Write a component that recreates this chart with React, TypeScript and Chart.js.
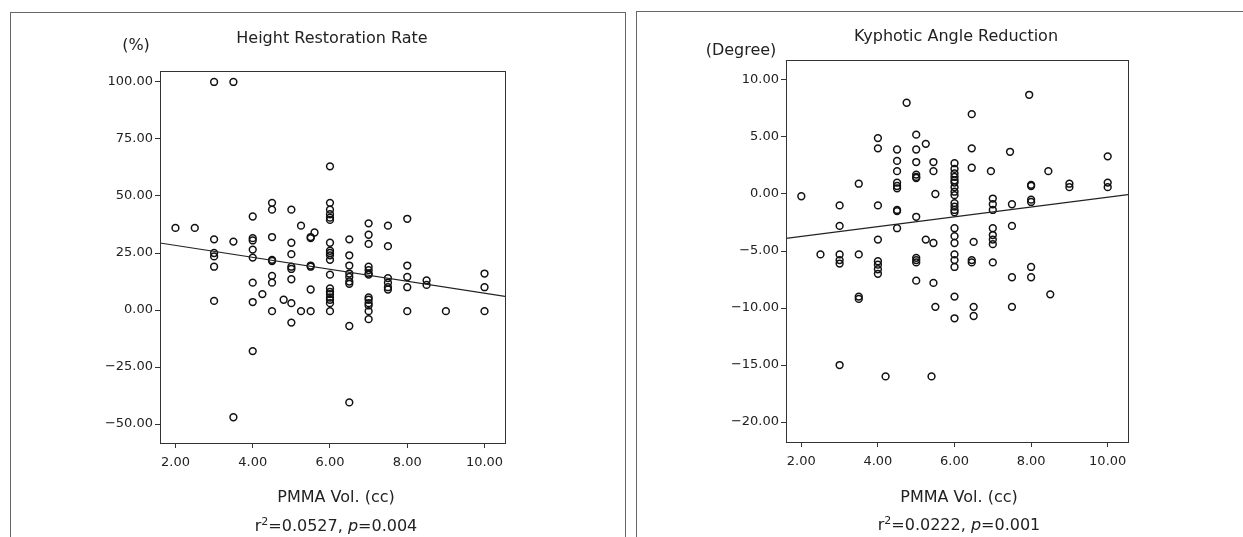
import React, { useEffect, useRef } from "react";
import { Chart, registerables } from "chart.js";

Chart.register(...registerables);

// ---------- data ----------
const volumeTicks = [2, 4, 6, 8, 10];
const heightTicks = [-50, -25, 0, 25, 50, 75, 100];
const kyphoticTicks = [-20, -15, -10, -5, 0, 5, 10];

// Height Restoration Rate (%) vs PMMA volume (cc)
const heightVol = [
  2.0,
  2.5,
  3.0, 3.0, 3.0, 3.0, 3.0, 3.0,
  3.5, 3.5, 3.5,
  4.0, 4.0, 4.0, 4.0, 4.0, 4.0, 4.0, 4.0,
  4.25,
  4.5, 4.5, 4.5, 4.5, 4.5, 4.5, 4.5, 4.5,
  4.8,
  5.0, 5.0, 5.0, 5.0, 5.0, 5.0, 5.0, 5.0,
  5.25, 5.25,
  5.6, 5.5, 5.5, 5.5, 5.5, 5.5, 5.5,
  6.0, 6.0, 6.0, 6.0, 6.0, 6.0, 6.0, 6.0, 6.0, 6.0, 6.0, 6.0, 6.0, 6.0, 6.0, 6.0, 6.0, 6.0, 6.0,
  6.5, 6.5, 6.5, 6.5, 6.5, 6.5, 6.5, 6.5, 6.5,
  7.0, 7.0, 7.0, 7.0, 7.0, 7.0, 7.0, 7.0, 7.0, 7.0, 7.0, 7.0, 7.0,
  7.5, 7.5, 7.5, 7.5, 7.5, 7.5,
  8.0, 8.0, 8.0, 8.0, 8.0,
  8.5, 8.5,
  9.0,
  10.0, 10.0, 10.0,
];
const heightRate = [
  36,
  36,
  100, 31, 25, 23.5, 19, 4,
  100, 30, -47,
  41, 31.5, 30.5, 26.5, 23, 12, 3.5, -18,
  7,
  47, 44, 32, 22, 21.5, 15, 12, -0.5,
  4.5,
  44, 29.5, 24.5, 19, 18, 13.5, 3, -5.5,
  37, -0.5,
  34, 32, 31.5, 19.5, 19, 9, -0.5,
  63, 47, 44, 42, 40.5, 39.5, 29.5, 26, 25, 24, 22, 15.5, 9.5, 8, 7, 5.5, 4.5, 3, -0.5,
  31, 24, 19.5, 16, 14.5, 12.5, 11.5, -7, -40.5,
  38, 33, 29, 19, 17.5, 16, 15.5, 5.5, 4.5, 3, 2, -0.5, -4,
  37, 28, 14, 12, 10, 9,
  40, 19.5, 14.5, 10, -0.5,
  13, 11,
  -0.5,
  16, 10, -0.5,
];

// Kyphotic Angle Reduction (degree) vs PMMA volume (cc)
const kyphoticVol = [
  2.0,
  2.5,
  3.0, 3.0, 3.0, 3.0, 3.0, 3.0,
  3.5, 3.5, 3.5, 3.5,
  4.0, 4.0, 4.0, 4.0, 4.0, 4.0, 4.0, 4.0,
  4.2,
  4.5, 4.5, 4.5, 4.5, 4.5, 4.5, 4.5, 4.5, 4.5,
  4.75,
  5.0, 5.0, 5.0, 5.0, 5.0, 5.0, 5.0, 5.0, 5.0, 5.0, 5.0,
  5.25, 5.25,
  5.45, 5.45, 5.5, 5.45, 5.45, 5.5, 5.4,
  6.0, 6.0, 6.0, 6.0, 6.0, 6.0, 6.0, 6.0, 6.0, 6.0, 6.0, 6.0, 6.0, 6.0, 6.0, 6.0, 6.0, 6.0, 6.0, 6.0, 6.0,
  6.45, 6.45, 6.45, 6.5, 6.45, 6.45, 6.5, 6.5,
  6.95, 7.0, 7.0, 7.0, 7.0, 7.0, 7.0, 7.0, 7.0,
  7.45, 7.5, 7.5, 7.5, 7.5,
  7.95, 8.0, 8.0, 8.0, 8.0, 8.0, 8.0,
  8.45, 8.5,
  9.0, 9.0,
  10.0, 10.0, 10.0,
];
const kyphoticDeg = [
  -0.2,
  -5.3,
  -1.0, -2.8, -5.3, -5.8, -6.1, -15.0,
  0.9, -5.3, -9.0, -9.2,
  4.9, 4.0, -1.0, -4.0, -5.9, -6.2, -6.6, -7.0,
  -16.0,
  3.9, 2.9, 2.0, 1.0, 0.7, 0.5, -1.4, -1.5, -3.0,
  8.0,
  5.2, 3.9, 2.8, 1.7, 1.5, 1.4, -2.0, -5.6, -5.8, -6.0, -7.6,
  4.4, -4.0,
  2.8, 2.0, 0.0, -4.3, -7.8, -9.9, -16.0,
  2.7, 2.2, 1.8, 1.5, 1.2, 1.0, 0.6, 0.2, -0.1, -0.8, -1.1, -1.4, -1.6, -3.0, -3.7, -4.3, -5.3, -5.8, -6.4, -9.0, -10.9,
  7.0, 4.0, 2.3, -4.2, -5.8, -6.0, -9.9, -10.7,
  2.0, -0.4, -0.9, -1.4, -3.0, -3.6, -4.0, -4.4, -6.0,
  3.7, -0.9, -2.8, -7.3, -9.9,
  8.7, 0.8, 0.7, -0.5, -0.7, -6.4, -7.3,
  2.0, -8.8,
  0.9, 0.6,
  3.3, 1.0, 0.6,
];

// fitted regression lines, read at the two ends of the x axis
const trendVol = [1.6, 10.53];
const heightTrend = [29.4, 6.0];
const kyphoticTrend = [-3.9, -0.05];

// ---------- chart ----------
const FONT = "'DejaVu Sans', 'Noto Sans', sans-serif";

function fmt(v: number) {
  return (v < 0 ? "\u2212" : "") + Math.abs(v).toFixed(2);
}

type Cfg = {
  xs: number[];
  ys: number[];
  trend: number[];
  yMin: number;
  yMax: number;
  yTicks: number[];
  yAxisWidth: number;
  padTop: number;
  padRight: number;
  xAxisHeight: number;
};

const framePlugin = {
  id: "plotFrame",
  afterDraw(chart: any) {
    const { left, top, right, bottom } = chart.chartArea;
    const ctx = chart.ctx;
    ctx.save();
    ctx.strokeStyle = "#333";
    ctx.lineWidth = 1;
    ctx.strokeRect(
      Math.round(left) + 0.5,
      Math.round(top) + 0.5,
      Math.round(right - left),
      Math.round(bottom - top)
    );
    ctx.restore();
  },
};

function makeChart(canvas: HTMLCanvasElement, c: Cfg) {
  const points = c.xs.map((x, i) => ({ x, y: c.ys[i] }));
  const line = trendVol.map((x, i) => ({ x, y: c.trend[i] }));
  const tickFont = { family: FONT, size: 13 };
  return new Chart(canvas, {
    type: "scatter",
    data: {
      datasets: [
        {
          data: line,
          showLine: true,
          pointRadius: 0,
          borderColor: "#222",
          borderWidth: 1.2,
          fill: false,
        } as any,
        {
          data: points,
          pointStyle: "circle",
          pointRadius: 3.4,
          pointBorderWidth: 1.5,
          borderColor: "#111",
          backgroundColor: "rgba(0,0,0,0)",
          showLine: false,
        } as any,
      ],
    },
    options: {
      animation: false,
      responsive: false,
      maintainAspectRatio: false,
      devicePixelRatio: 1,
      events: [],
      layout: { padding: { top: c.padTop, right: c.padRight, bottom: 0, left: 0 } },
      plugins: {
        legend: { display: false },
        tooltip: { enabled: false },
        title: { display: false },
      },
      scales: {
        x: {
          type: "linear",
          min: 1.6,
          max: 10.53,
          afterBuildTicks: (s: any) => {
            s.ticks = volumeTicks.map((v) => ({ value: v }));
          },
          afterFit: (s: any) => {
            s.height = c.xAxisHeight;
            s.paddingLeft = 0;
            s.paddingRight = 0;
          },
          grid: { drawOnChartArea: false, drawTicks: true, tickLength: 5, color: "#333" },
          border: { display: false },
          ticks: {
            padding: 7,
            color: "#222",
            font: tickFont,
            maxRotation: 0,
            autoSkip: false,
            callback: (v: any) => fmt(Number(v)),
          },
        },
        y: {
          type: "linear",
          min: c.yMin,
          max: c.yMax,
          afterBuildTicks: (s: any) => {
            s.ticks = c.yTicks.map((v) => ({ value: v }));
          },
          afterFit: (s: any) => {
            s.width = c.yAxisWidth;
            s.paddingTop = 0;
            s.paddingBottom = 0;
          },
          grid: { drawOnChartArea: false, drawTicks: true, tickLength: 5, color: "#333" },
          border: { display: false },
          ticks: {
            padding: 2,
            color: "#222",
            font: tickFont,
            autoSkip: false,
            callback: (v: any) => fmt(Number(v)),
          },
        },
      },
    } as any,
    plugins: [framePlugin],
  });
}

const textBase: React.CSSProperties = {
  position: "absolute",
  transform: "translate(-50%, -50%)",
  whiteSpace: "nowrap",
  fontFamily: FONT,
  color: "#222",
  lineHeight: "1",
};

function Label(props: { x: number; y: number; size: number; children: React.ReactNode }) {
  return (
    <div style={{ ...textBase, left: props.x, top: props.y, fontSize: props.size }}>
      {props.children}
    </div>
  );
}

function Line(props: { x: number; y: number; w: number; h: number }) {
  return (
    <div
      style={{
        position: "absolute",
        left: props.x,
        top: props.y,
        width: props.w,
        height: props.h,
        background: "#666",
      }}
    />
  );
}

export default function App() {
  const leftRef = useRef<HTMLCanvasElement>(null);
  const rightRef = useRef<HTMLCanvasElement>(null);

  useEffect(() => {
    const a = makeChart(leftRef.current!, {
      xs: heightVol,
      ys: heightRate,
      trend: heightTrend,
      yMin: -58.3,
      yMax: 104.8,
      yTicks: heightTicks,
      yAxisWidth: 160,
      padTop: 71,
      padRight: 120,
      xAxisHeight: 94,
    });
    const b = makeChart(rightRef.current!, {
      xs: kyphoticVol,
      ys: kyphoticDeg,
      trend: kyphoticTrend,
      yMin: -21.75,
      yMax: 11.75,
      yTicks: kyphoticTicks,
      yAxisWidth: 156,
      padTop: 60,
      padRight: 115,
      xAxisHeight: 95,
    });
    return () => {
      a.destroy();
      b.destroy();
    };
  }, []);

  return (
    <div
      style={{
        position: "absolute",
        left: 0,
        top: 0,
        width: 1243,
        height: 537,
        background: "#fff",
        overflow: "hidden",
      }}
    >
      <canvas
        ref={leftRef}
        width={625}
        height={537}
        style={{ position: "absolute", left: 0, top: 0, width: 625, height: 537 }}
      />
      <canvas
        ref={rightRef}
        width={613}
        height={537}
        style={{ position: "absolute", left: 630, top: 0, width: 613, height: 537 }}
      />

      {/* panel frames */}
      <Line x={10} y={12} w={616} h={1} />
      <Line x={10} y={12} w={1} h={525} />
      <Line x={625} y={12} w={1} h={525} />
      <Line x={636} y={11} w={607} h={1} />
      <Line x={636} y={11} w={1} h={526} />

      {/* left panel text */}
      <Label x={332} y={38} size={16}>Height Restoration Rate</Label>
      <Label x={136} y={45} size={16}>(%)</Label>
      <Label x={336} y={497} size={16}>PMMA Vol. (cc)</Label>
      <Label x={336} y={526} size={16}>
        r<sup style={{ fontSize: 11, verticalAlign: "6px", lineHeight: 0 }}>2</sup>=0.0527, <i>p</i>=0.004
      </Label>

      {/* right panel text */}
      <Label x={956} y={36} size={16}>Kyphotic Angle Reduction</Label>
      <Label x={741} y={50} size={16}>(Degree)</Label>
      <Label x={959} y={497} size={16}>PMMA Vol. (cc)</Label>
      <Label x={959} y={525} size={16}>
        r<sup style={{ fontSize: 11, verticalAlign: "6px", lineHeight: 0 }}>2</sup>=0.0222, <i>p</i>=0.001
      </Label>
    </div>
  );
}
